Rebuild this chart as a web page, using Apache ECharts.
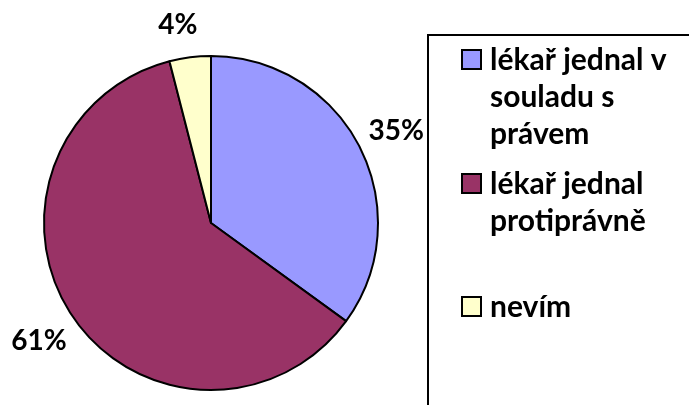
<!DOCTYPE html>
<html>
<head>
<meta charset="utf-8">
<script src="https://cdn.jsdelivr.net/npm/echarts@6/dist/echarts.min.js"></script>
<style>
  html, body { margin: 0; padding: 0; background: #fff; }
  #chart { width: 689px; height: 405px; }
</style>
</head>
<body>
<div id="chart"></div>
<script>
// Categories and their shares (percent)
const categories = ['lékař jednal v souladu s právem', 'lékař jednal protiprávně', 'nevím'];
const shares = [35, 61, 4];
// Legend text broken into lines as shown in the legend box
const legendLines = [['lékař jednal v', 'souladu s', 'právem'], ['lékař jednal', 'protiprávně'], ['nevím']];
const sliceColors = ['#9999FF', '#993366', '#FFFFCC'];

const FONT = 'Lato';
const chart = echarts.init(document.getElementById('chart'), null, { renderer: 'canvas' });

// small nudges for individual percentage labels
const labelOffsets = [[0, 2], [0, 1], [-7, 8]];
const pieData = categories.map((name, i) => ({ name, value: shares[i], itemStyle: { color: sliceColors[i] } }));

// Legend: framed box with a swatch and wrapped text per item
const legendTop = [49, 173, 296];
const lineH = 37;
const legendGraphics = [{
  type: 'rect', shape: { x: 428, y: 35, width: 400, height: 500 },
  style: { fill: '#fff', stroke: '#000', lineWidth: 2 }, z: 1
}];
legendLines.forEach((lines, i) => {
  legendGraphics.push({
    type: 'rect', shape: { x: 462, y: legendTop[i] + 1, width: 19, height: 19 },
    style: { fill: sliceColors[i], stroke: '#000', lineWidth: 2 }, z: 2
  });
  legendGraphics.push({
    type: 'text', x: 490, y: legendTop[i] + 11 - lineH / 2, z: 2,
    style: {
      text: lines.join('\n'), fill: '#000', font: 'bold 30px ' + FONT,
      lineHeight: lineH, verticalAlign: 'top', align: 'left'
    }
  });
});

chart.setOption({
  animation: false,
  backgroundColor: '#fff',
  graphic: legendGraphics,
  series: [
    {
      type: 'pie',
      center: [211, 223],
      radius: 167,
      startAngle: 90,
      clockwise: true,
      data: pieData,
      label: { show: false },
      labelLine: { show: false },
      itemStyle: { borderColor: '#000', borderWidth: 2 },
      emphasis: { disabled: true },
      silent: true
    },
    {
      // transparent ring that carries the percentage labels outside the pie
      type: 'pie',
      center: [211, 223],
      radius: [180, 230],
      startAngle: 90,
      clockwise: true,
      data: pieData.map((d, i) => ({ name: d.name, value: d.value, label: { offset: labelOffsets[i] } })),
      itemStyle: { color: 'rgba(0,0,0,0)', borderWidth: 0 },
      label: {
        show: true, position: 'inside',
        formatter: p => p.value + '%',
        fontFamily: FONT, fontWeight: 'bold', fontSize: 28, color: '#000'
      },
      labelLine: { show: false },
      emphasis: { disabled: true },
      silent: true,
      z: 3
    }
  ]
});
</script>
</body>
</html>
